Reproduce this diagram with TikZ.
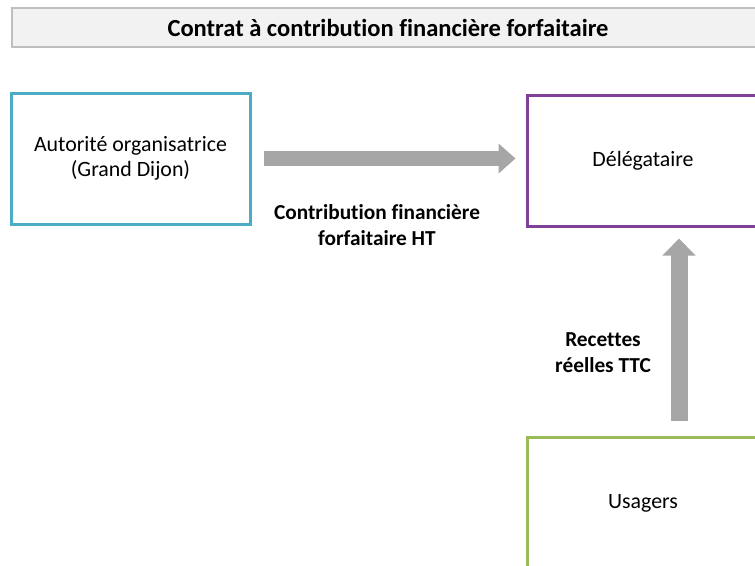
\documentclass[tikz,border=0pt]{standalone}
\usepackage{fontspec}
\setmainfont{Carlito}[Ligatures=NoCommon]
\usetikzlibrary{positioning,arrows.meta}

\definecolor{bleuAO}{RGB}{75,172,198}
\definecolor{violetDel}{RGB}{128,64,152}
\definecolor{vertUsa}{RGB}{155,187,89}
\definecolor{grisFleche}{RGB}{166,166,166}

\begin{document}
\begin{tikzpicture}[x=0.75pt,y=-0.75pt,
  acteur/.style={draw, line width=2.25pt, minimum width=174pt, minimum height=98.25pt,
    align=center, font=\fontsize{16.4}{18.75}\selectfont, inner sep=0pt},
  libelle/.style={align=center, font=\fontsize{16}{19.5}\selectfont\bfseries},
  flux/.style={draw=grisFleche, line width=11.25pt,
    -{Triangle[width=21.75pt,length=12.75pt]}}]

%%% cadre
\clip (0,0) rectangle (755,565);
\useasboundingbox (0,0) rectangle (755,565);

%% titre
\node[draw=black!25, fill=black!5, line width=0.9pt, minimum width=564pt, minimum height=29.25pt,
  font=\fontsize{18.4}{20}\selectfont\bfseries] (titre) at (388,27.5)
  {Contrat à contribution financière forfaitaire};

%% acteurs
\node[acteur, draw=bleuAO, minimum width=179.25pt] (autorite) at (130.5,158.5) {Autorité organisatrice\\(Grand Dijon)};
\node[acteur, draw=violetDel] (delegataire) at (643,160.5) {Délégataire};
\node[acteur, draw=vertUsa] (usagers) at (643,503) {Usagers};

%% flux
\draw[flux, shorten <=9pt, shorten >=7.5pt] (autorite.east) -- (autorite.east -| delegataire.west);
\coordinate (recettes) at (679,437);
\draw[flux, line width=12.75pt, -{Triangle[width=24pt,length=12.75pt]}, shorten <=12pt, shorten >=8.25pt]
  (recettes) -- (recettes |- delegataire.south);

%% libellés
\node[libelle] (contribution) at (377,225) {Contribution financière\\forfaitaire HT};
\node[libelle] (recettesTTC) at (603,353) {Recettes\\réelles TTC};

\end{tikzpicture}
\end{document}
